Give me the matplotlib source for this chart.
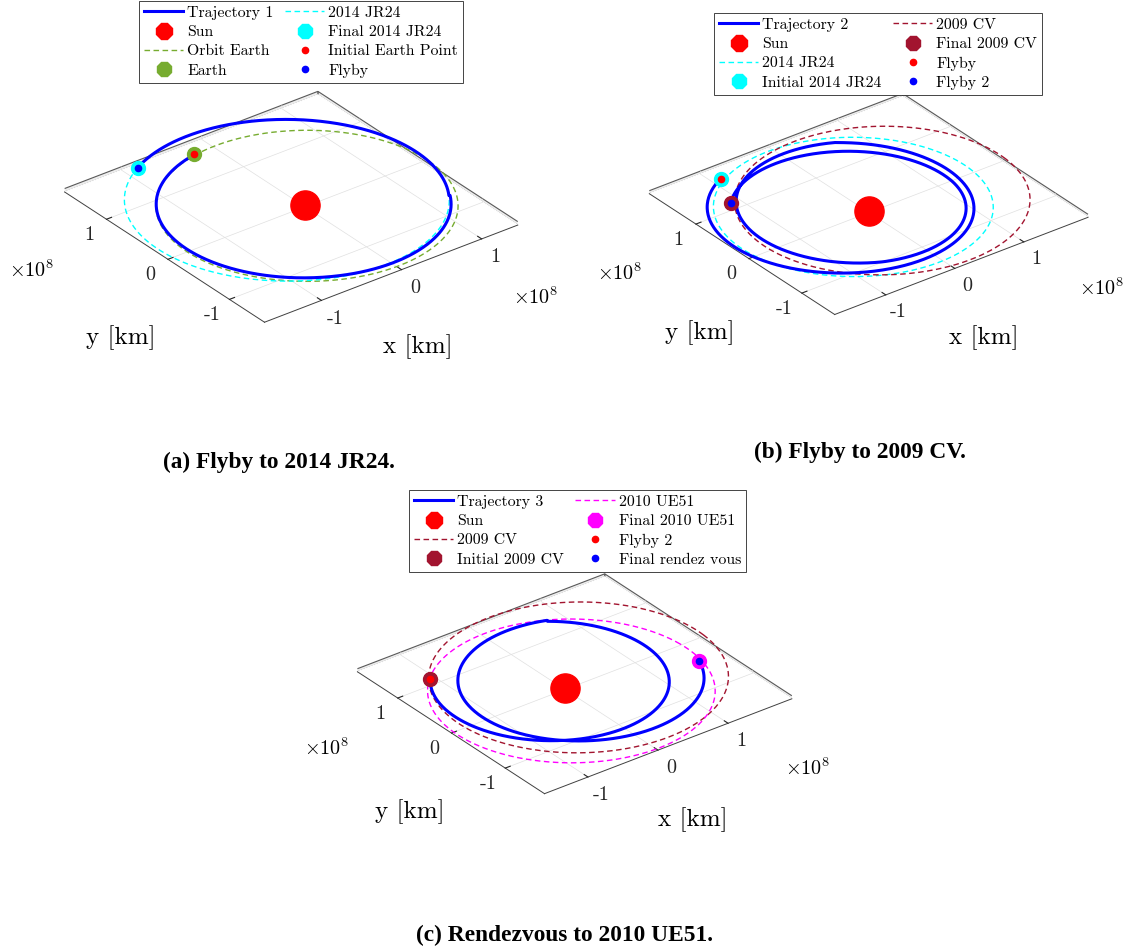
import numpy as np
import matplotlib
matplotlib.use('Agg')
import matplotlib.pyplot as plt
from matplotlib.lines import Line2D
from mpl_toolkits.mplot3d import proj3d

W, H = 1134, 947
plt.rcParams['font.family'] = 'cmr10'
plt.rcParams['mathtext.fontset'] = 'cm'
plt.rcParams['axes.unicode_minus'] = False

# colores estilo MATLAB
BLUE = '#0000ff'
RED = '#ff0000'
GREEN = '#77ac30'
CYAN = '#00ffff'
MAROON = '#a2142f'
MAGENTA = '#ff00ff'

# orbitas: semieje mayor [1e8 km], excentricidad, angulo del perihelio [deg]
EARTH = [1.496, 0.017, 103]
JR24 = [1.611, 0.126, -65]
CV2009 = [1.715, 0.166, 200]
UE51 = [1.63, 0.06, 100]

# trayectorias como arcos keplerianos
# a [1e8 km], e, perihelio [deg], y angulos polares de corte [deg]
traj1_a = [1.46, 1.611]
traj1_e = [0.015, 0.126]
traj1_w = [270, -65]
traj1_th = [100, 330, 478.6]

traj2_a = [1.535, 1.402, 1.294, 1.364]
traj2_e = [0.218, 0.173, 0.147, 0.173]
traj2_w = [-50, 267.6, -60, -44.7]
traj2_th = [119, 426, 600, 720, 855.6]

traj3_a = [1.363, 1.408]
traj3_e = [0.172, 0.19]
traj3_w = [280, 190]
traj3_th = [135, 420, 705]

# puntos de eventos [1e8 km]
earth_start = [-0.26, 1.46]
jr24_end = [-0.87, 1.59]
jr24_start = [-0.90, 1.63]
cv_end = [-1.14, 1.12]
cv_start = [-1.09, 1.09]
ue51_end = [1.58, -0.43]


def conic(a, e, w, th0, th1, n=400):
    th = np.radians(np.linspace(th0, th1, n))
    r = a * (1 - e**2) / (1 + e * np.cos(th - np.radians(w)))
    return r * np.cos(th), r * np.sin(th)


def orbit_xy(el):
    return conic(el[0], el[1], el[2], 0, 360, 721)


def traj_xy(aa, ee, ww, th):
    xs, ys = [], []
    for i in range(len(aa)):
        x, y = conic(aa[i], ee[i], ww[i], th[i], th[i + 1])
        xs.append(x)
        ys.append(y)
    return np.concatenate(xs), np.concatenate(ys)


DASH = (0, (4, 2.5))

fig = plt.figure(figsize=(W / 100, H / 100), dpi=100)


def to_px(ax, x, y):
    xs, ys, _ = proj3d.proj_transform(x, y, 0, ax.get_proj())
    return ax.transData.transform((xs, ys))


def make_axes(xlim, ylim, sun_px, scale, S=520):
    ax = fig.add_axes([0, 0, S / W, S / H], projection='3d')
    ax.set_proj_type('ortho')
    ax.view_init(elev=30, azim=-127.5)
    ax.set_xlim(xlim)
    ax.set_ylim(ylim)
    ax.set_zlim(-0.02, 0.02)
    rng = (xlim[1] - xlim[0], ylim[1] - ylim[0], 0.04)
    ax.set_box_aspect(rng, zoom=1)
    ax.apply_aspect()
    p0 = to_px(ax, 0, 0)
    p1 = to_px(ax, 1, 0)
    ax.set_box_aspect(rng, zoom=scale * 0.7934 / (p1[0] - p0[0]))
    p0 = to_px(ax, 0, 0)
    ax.set_position([(sun_px[0] - p0[0]) / W, (H - sun_px[1] - p0[1]) / H, S / W, S / H])
    ax.patch.set_alpha(0)
    ax.computed_zorder = False

    for axis in (ax.xaxis, ax.yaxis):
        axis.set_pane_color((0.93, 0.93, 0.93, 1))
        axis.pane.set_edgecolor('0.35')
        axis.pane.set_linewidth(0.8)
        axis._axinfo['grid'].update(color=(0.88, 0.88, 0.88, 1), linewidth=0.5)
        axis._axinfo['tick'].update(inward_factor=0.0, outward_factor=0.25)
        axis.line.set_color('0.25')
        axis.line.set_linewidth(0.7)
    ax.zaxis.set_pane_color((1, 1, 1, 1))
    ax.zaxis.pane.set_edgecolor((1, 1, 1, 0))
    ax.zaxis._axinfo['grid'].update(linewidth=0)
    ax.zaxis.line.set_visible(False)
    ax.set_zticks([])

    ax.set_xticks([-1, 0, 1])
    ax.set_xticklabels(['-1', '0', '1'])
    ax.set_yticks([-1, 0, 1])
    ax.set_yticklabels(['-1', '0', '1'])
    ax.tick_params(axis='both', labelsize=14.5, pad=5.5, colors='0.15')
    return ax


def line(ax, xy, **kw):
    x, y = xy
    ax.plot(x, y, np.zeros_like(x), **kw)


def dot(ax, p, color, ms, marker='o', z=6):
    ax.plot([p[0]], [p[1]], [0], ls='none', marker=marker, ms=ms,
            color=color, mec=color, zorder=z)


def text_px(x, y, s, **kw):
    fig.text(x / W, 1 - y / H, s, ha='center', va='center', **kw)


def labels(ylab, xlab, tleft, tright):
    text_px(*ylab, 'y [km]', fontsize=18)
    text_px(*xlab, 'x [km]', fontsize=18)
    text_px(*tleft, r'$\times 10^{8}$', fontsize=14.5)
    text_px(*tright, r'$\times 10^{8}$', fontsize=14.5)


LEG = dict(ncol=2, fontsize=11.4, frameon=True, fancybox=False, edgecolor='0.15',
           framealpha=1, handlelength=2.5, handletextpad=0.25, columnspacing=0.7,
           labelspacing=0.33, borderpad=0.3, borderaxespad=0, loc='upper left')


def legend(kinds, names, left, top):
    hs = []
    for kind, color in kinds:
        if kind == 'solid':
            hs.append(Line2D([], [], color=color, lw=2.2))
        elif kind == 'dash':
            hs.append(Line2D([], [], color=color, lw=1.0, ls=DASH))
        elif kind == 'big':
            hs.append(Line2D([], [], ls='none', marker='8', ms=13, color=color))
        elif kind == 'mid':
            hs.append(Line2D([], [], ls='none', marker='8', ms=11.5, color=color))
        else:
            hs.append(Line2D([], [], ls='none', marker='o', ms=4.5, color=color))
    leg = fig.legend(hs, names, bbox_to_anchor=(left / W, 1 - top / H), **LEG)
    leg.get_frame().set_linewidth(0.6)


# ---------------- (a) ----------------
ax = make_axes((-1.71, 1.45), (-1.57, 1.68), (305, 205), 101)
dot(ax, (0, 0), RED, 21, z=2)
line(ax, orbit_xy(EARTH), color=GREEN, lw=1.0, ls=DASH, zorder=3)
line(ax, orbit_xy(JR24), color=CYAN, lw=1.0, ls=DASH, zorder=3)
line(ax, traj_xy(traj1_a, traj1_e, traj1_w, traj1_th), color=BLUE, lw=2.2, zorder=4)
dot(ax, earth_start, GREEN, 10, z=5)
dot(ax, jr24_end, CYAN, 10, z=5)
dot(ax, earth_start, RED, 4.5)
dot(ax, jr24_end, BLUE, 4.5)
labels((121, 338), (418, 347), (32, 270), (536, 297))
legend([('solid', BLUE), ('big', RED), ('dash', GREEN), ('mid', GREEN),
        ('dash', CYAN), ('mid', CYAN), ('dot', RED), ('dot', BLUE)],
       ['Trajectory 1', 'Sun', 'Orbit Earth', 'Earth',
        '2014 JR24', 'Final 2014 JR24', 'Initial Earth Point', 'Flyby'], 139, 1)

# ---------------- (b) ----------------
ax = make_axes((-1.74, 1.93), (-1.62, 1.88), (869, 211), 87)
dot(ax, (0, 0), RED, 21, z=2)
line(ax, orbit_xy(JR24), color=CYAN, lw=1.0, ls=DASH, zorder=3)
line(ax, orbit_xy(CV2009), color=MAROON, lw=1.0, ls=DASH, zorder=3)
line(ax, traj_xy(traj2_a, traj2_e, traj2_w, traj2_th), color=BLUE, lw=2.2, zorder=4)
dot(ax, jr24_start, CYAN, 10, z=5)
dot(ax, cv_end, MAROON, 10, z=5)
dot(ax, jr24_start, RED, 4.5)
dot(ax, cv_end, BLUE, 4.5)
labels((700, 333), (984, 338), (620, 273), (1102, 288))
legend([('solid', BLUE), ('big', RED), ('dash', CYAN), ('mid', CYAN),
        ('dash', MAROON), ('mid', MAROON), ('dot', RED), ('dot', BLUE)],
       ['Trajectory 2', 'Sun', '2014 JR24', 'Initial 2014 JR24',
        '2009 CV', 'Final 2009 CV', 'Flyby', 'Flyby 2'], 714, 13)

# ---------------- (c) ----------------
ax = make_axes((-1.62, 1.91), (-1.73, 1.75), (565, 688), 88.3)
dot(ax, (0, 0), RED, 21, z=2)
line(ax, orbit_xy(CV2009), color=MAROON, lw=1.0, ls=DASH, zorder=3)
line(ax, orbit_xy(UE51), color=MAGENTA, lw=1.0, ls=DASH, zorder=3)
line(ax, traj_xy(traj3_a, traj3_e, traj3_w, traj3_th), color=BLUE, lw=2.2, zorder=4)
dot(ax, cv_start, MAROON, 10, z=5)
dot(ax, ue51_end, MAGENTA, 10, z=5)
dot(ax, cv_start, RED, 4.5)
dot(ax, ue51_end, BLUE, 4.5)
labels((410, 812), (693, 820), (327, 748), (808, 768))
legend([('solid', BLUE), ('big', RED), ('dash', MAROON), ('mid', MAROON),
        ('dash', MAGENTA), ('mid', MAGENTA), ('dot', RED), ('dot', BLUE)],
       ['Trajectory 3', 'Sun', '2009 CV', 'Initial 2009 CV',
        '2010 UE51', 'Final 2010 UE51', 'Flyby 2', 'Final rendez vous'], 409, 490)

# leyendas de subfiguras
cap = dict(family='Liberation Serif', weight='bold', fontsize=16.8)
text_px(279, 462, '(a) Flyby to 2014 JR24.', **cap)
text_px(860, 452, '(b) Flyby to 2009 CV.', **cap)
text_px(564, 935, '(c) Rendezvous to 2010 UE51.', **cap)

fig.savefig('out.png', dpi=100, facecolor='white')
